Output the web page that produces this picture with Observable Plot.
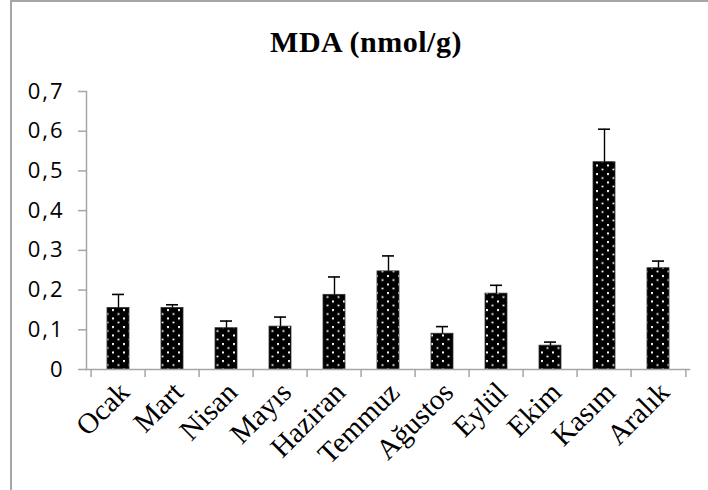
<!DOCTYPE html>
<html>
<head>
<meta charset="utf-8">
<script src="https://cdn.jsdelivr.net/npm/d3@7"></script>
<script src="https://cdn.jsdelivr.net/npm/@observablehq/plot@0.6"></script>
<style>
  html, body { margin: 0; padding: 0; background: #fff; }
  #wrap { position: relative; width: 708px; height: 490px; overflow: hidden; background: #fff; }
  #border { position: absolute; left: 10px; top: 0px; width: 800px; height: 600px;
            border-left: 2px solid #a6a6a6; border-top: 2px solid #a6a6a6; box-sizing: border-box; }
  #titlebox { position: relative; height: 70px; }
  #title { position: absolute; left: 0; width: 732px; top: 27px; text-align: center;
           font-family: "Liberation Serif", "DejaVu Serif", serif; font-weight: bold;
           font-size: 30px; line-height: 30px; letter-spacing: 0.5px; color: #000; }
  #chart { position: relative; }
</style>
</head>
<body>
<div id="wrap">
  <div id="border"></div>
  <div id="titlebox"><div id="title">MDA (nmol/g)</div></div>
  <div id="chart"></div>
</div>
<script>
const months = ["Ocak", "Mart", "Nisan", "Mayıs", "Haziran", "Temmuz", "Ağustos", "Eylül", "Ekim", "Kasım", "Aralık"];
const mdaValues = [0.155, 0.155, 0.104, 0.108, 0.188, 0.247, 0.090, 0.191, 0.060, 0.522, 0.255];
const errorUpper = [0.189, 0.163, 0.122, 0.132, 0.233, 0.286, 0.108, 0.212, 0.069, 0.605, 0.273];
const yTicks = [0, 0.1, 0.2, 0.3, 0.4, 0.5, 0.6, 0.7];

const data = months.map((m, i) => ({month: m, value: mdaValues[i], upper: errorUpper[i]}));

const W = 708, H = 420, mL = 86, mR = 19, mT = 21, mB = 121;
const step = (W - mL - mR) / months.length;
const grey = "#a6a6a6";
const fmt = d => d === 0 ? "0" : d.toFixed(1).replace(".", ",");

const plot = Plot.plot({
  width: W, height: H,
  marginLeft: mL, marginRight: mR, marginTop: mT, marginBottom: mB,
  style: {background: "transparent", overflow: "visible"},
  x: {domain: months, paddingInner: 0.6, paddingOuter: 0.3, axis: null, label: null},
  y: {domain: [0, 0.7], axis: null, label: null},
  marks: [
    Plot.barY(data, {x: "month", y: "value", fill: "url(#dots)", stroke: "#333", strokeWidth: 0.8}),
    Plot.ruleX(data, {x: "month", y1: "value", y2: "upper", stroke: "#000", strokeWidth: 1.4}),
    Plot.tickY(data, {x: "month", y: "upper", stroke: "#000", strokeWidth: 1.6, insetLeft: 5, insetRight: 5}),
    Plot.frame({anchor: "left", stroke: grey, strokeWidth: 1.5}),
    Plot.frame({anchor: "bottom", stroke: grey, strokeWidth: 1.5}),
    Plot.axisY({ticks: yTicks, tickSize: 8, tickPadding: 14, tickFormat: fmt, stroke: grey, label: null,
                strokeWidth: 1.5, fontSize: 22, fontFamily: "Open Sans, Lato, sans-serif", fill: "#000"}),
    Plot.axisX(months, {tickSize: 8, text: null, dx: -step / 2, stroke: grey, strokeWidth: 1.5, label: null}),
    Plot.axisX(months.slice(-1), {tickSize: 8, text: null, dx: step / 2, stroke: grey, strokeWidth: 1.5, label: null}),
    Plot.axisX({tickSize: 0, tickPadding: 18, tickRotate: -45, dx: 6, fontSize: 29, label: null,
                fontFamily: "Liberation Serif, DejaVu Serif, serif", fill: "#000", stroke: null})
  ]
});

const svg = d3.select(plot);
const defs = svg.insert("defs", ":first-child");
const pat = defs.append("pattern").attr("id", "dots").attr("patternUnits", "userSpaceOnUse")
  .attr("width", 11).attr("height", 8.5);
pat.append("rect").attr("width", 11).attr("height", 8.5).attr("fill", "#000");
pat.append("rect").attr("x", 2).attr("y", 1).attr("width", 2).attr("height", 2).attr("fill", "#fff");
pat.append("rect").attr("x", 7.5).attr("y", 5.25).attr("width", 2).attr("height", 1.6).attr("fill", "#fff");
svg.selectAll("[aria-label='y-axis tick label'] text").style("letter-spacing", "2px");

document.getElementById("chart").appendChild(plot);
</script>
</body>
</html>
